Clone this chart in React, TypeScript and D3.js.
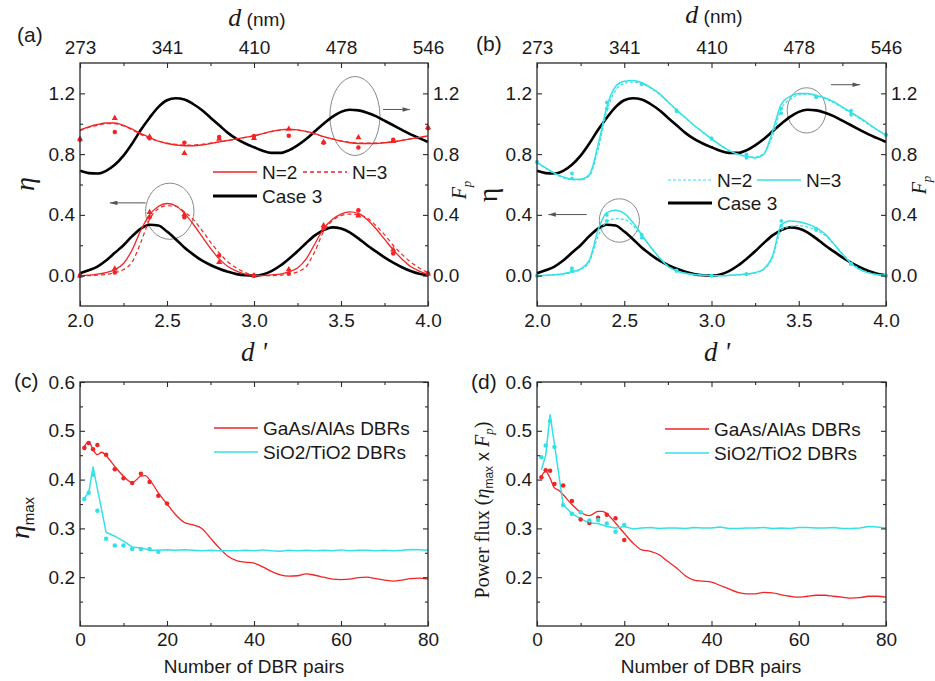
import React, { useRef, useEffect } from "react";
import * as d3 from "d3";

const SANS = "'Liberation Sans', Arial, sans-serif";
const SERIF = "'Liberation Serif', 'Times New Roman', serif";
const RED = "#f22424";
const CYAN = "#34e1e6";
const AXIS = "#2a2a2a";
const FS = 19;

// ---- panels (a) and (b): d' sweep ----
const dPrime = [2.0, 2.05, 2.1, 2.15, 2.2, 2.25, 2.3, 2.35, 2.4, 2.45, 2.5, 2.55, 2.6, 2.65, 2.7, 2.75, 2.8, 2.85, 2.9, 2.95, 3.0, 3.05, 3.1, 3.15, 3.2, 3.25, 3.3, 3.35, 3.4, 3.45, 3.5, 3.55, 3.6, 3.65, 3.7, 3.75, 3.8, 3.85, 3.9, 3.95, 4.0];
const topLabels = ["273", "341", "410", "478", "546"];

const case3Fp = [0.69, 0.675, 0.672, 0.69, 0.73, 0.79, 0.87, 0.96, 1.04, 1.11, 1.155, 1.168, 1.16, 1.13, 1.09, 1.04, 0.99, 0.94, 0.9, 0.87, 0.845, 0.822, 0.808, 0.808, 0.825, 0.858, 0.9, 0.95, 1.0, 1.045, 1.078, 1.092, 1.088, 1.073, 1.05, 1.02, 0.99, 0.96, 0.93, 0.905, 0.88];
const case3Eta = [0.015, 0.035, 0.06, 0.1, 0.15, 0.2, 0.26, 0.31, 0.335, 0.33, 0.29, 0.24, 0.185, 0.14, 0.1, 0.07, 0.045, 0.025, 0.01, 0.002, 0.0, 0.008, 0.03, 0.065, 0.11, 0.16, 0.215, 0.265, 0.3, 0.318, 0.31, 0.285, 0.245, 0.2, 0.16, 0.12, 0.085, 0.055, 0.03, 0.012, 0.003];

const aN2Fp = [0.96, 0.98, 0.995, 1.005, 1.005, 0.99, 0.965, 0.935, 0.91, 0.885, 0.87, 0.86, 0.855, 0.855, 0.86, 0.87, 0.88, 0.89, 0.9, 0.91, 0.92, 0.935, 0.95, 0.96, 0.965, 0.96, 0.95, 0.935, 0.915, 0.9, 0.885, 0.875, 0.87, 0.87, 0.87, 0.875, 0.88, 0.89, 0.9, 0.91, 0.92];
const aN3Fp = [0.955, 0.975, 0.99, 1.0, 1.0, 0.985, 0.96, 0.93, 0.905, 0.885, 0.872, 0.865, 0.86, 0.86, 0.865, 0.872, 0.88, 0.89, 0.9, 0.91, 0.922, 0.935, 0.948, 0.958, 0.962, 0.958, 0.948, 0.932, 0.915, 0.9, 0.887, 0.878, 0.873, 0.872, 0.872, 0.876, 0.882, 0.89, 0.9, 0.91, 0.92];
const aN2Eta = [0.0, 0.003, 0.01, 0.02, 0.04, 0.08, 0.17, 0.3, 0.4, 0.455, 0.475, 0.46, 0.41, 0.34, 0.26, 0.18, 0.11, 0.06, 0.03, 0.01, 0.002, 0.0, 0.005, 0.01, 0.025, 0.05, 0.11, 0.21, 0.31, 0.37, 0.405, 0.42, 0.41, 0.37, 0.31, 0.24, 0.17, 0.11, 0.06, 0.03, 0.01];
const aN3Eta = [0.0, 0.0, 0.003, 0.008, 0.02, 0.04, 0.09, 0.22, 0.37, 0.44, 0.46, 0.455, 0.42, 0.37, 0.3, 0.22, 0.15, 0.09, 0.05, 0.02, 0.005, 0.0, 0.0, 0.003, 0.01, 0.025, 0.06, 0.16, 0.29, 0.36, 0.395, 0.405, 0.4, 0.38, 0.33, 0.27, 0.2, 0.14, 0.09, 0.05, 0.02];

const bN3Fp = [0.745, 0.71, 0.675, 0.65, 0.635, 0.635, 0.665, 0.86, 1.11, 1.245, 1.28, 1.285, 1.27, 1.24, 1.2, 1.145, 1.09, 1.04, 0.99, 0.945, 0.9, 0.86, 0.825, 0.8, 0.785, 0.775, 0.8, 0.95, 1.13, 1.18, 1.2, 1.2, 1.185, 1.17, 1.145, 1.11, 1.075, 1.04, 1.0, 0.96, 0.925];
const bN2Fp = [0.745, 0.705, 0.67, 0.645, 0.63, 0.63, 0.655, 0.83, 1.08, 1.22, 1.265, 1.275, 1.265, 1.235, 1.195, 1.145, 1.09, 1.04, 0.99, 0.945, 0.9, 0.86, 0.825, 0.8, 0.785, 0.78, 0.805, 0.92, 1.1, 1.16, 1.19, 1.195, 1.185, 1.165, 1.14, 1.105, 1.07, 1.035, 0.995, 0.96, 0.925];
const bN3Eta = [0.0, 0.002, 0.006, 0.012, 0.025, 0.045, 0.1, 0.3, 0.415, 0.43, 0.41, 0.35, 0.27, 0.19, 0.12, 0.06, 0.03, 0.015, 0.007, 0.003, 0.0, 0.0, 0.002, 0.005, 0.01, 0.02, 0.045, 0.13, 0.335, 0.36, 0.355, 0.34, 0.315, 0.275, 0.21, 0.14, 0.08, 0.04, 0.018, 0.006, 0.002];
const bN2Eta = [0.0, 0.001, 0.004, 0.01, 0.02, 0.04, 0.09, 0.26, 0.355, 0.375, 0.37, 0.33, 0.26, 0.19, 0.12, 0.065, 0.033, 0.016, 0.007, 0.003, 0.0, 0.0, 0.001, 0.004, 0.008, 0.018, 0.04, 0.12, 0.3, 0.325, 0.33, 0.32, 0.3, 0.265, 0.21, 0.145, 0.085, 0.045, 0.02, 0.007, 0.002];

// simulated points
const markD = [2.0, 2.2, 2.4, 2.6, 2.8, 3.0, 3.2, 3.4, 3.6, 3.8, 4.0];
const aFpDots = [0.894, 0.945, 0.905, 0.875, 0.912, 0.92, 0.921, 0.875, 0.844, 0.894, 0.97];
const aFpTris = [0.9, 1.037, 0.915, 0.806, 0.9, 0.905, 0.965, 0.88, 0.91, 0.885, 0.975];
const aEtaDots = [0.0, 0.02, 0.385, 0.385, 0.132, 0.0, 0.013, 0.31, 0.43, 0.146, 0.015];
const aEtaTris = [0.0, 0.046, 0.417, 0.402, 0.088, 0.0, 0.04, 0.33, 0.395, 0.17, 0.01];
const bFpDots = [0.75, 0.674, 1.14, 1.26, 1.083, 0.9, 0.798, 1.1, 1.175, 1.087, 0.93];
const bFpDots2 = [0.745, 0.64, 1.1, 1.265, 1.09, 0.905, 0.776, 1.07, 1.18, 1.06, 0.925];
const bEtaDots = [0.0, 0.05, 0.4, 0.27, 0.03, 0.0, 0.01, 0.36, 0.31, 0.08, 0.0];
const bEtaDots2 = [0.0, 0.035, 0.36, 0.25, 0.035, 0.0, 0.01, 0.33, 0.3, 0.075, 0.0];

// circles + arrows, in data units
const ellipsesA = [
  { d: 3.58, v: 1.051, rd: 0.144, rv: 0.26 },
  { d: 2.516, v: 0.424, rd: 0.139, rv: 0.185 },
];
const arrowsA = [
  { d0: 3.742, d1: 3.897, v: 1.094 },
  { d0: 2.377, d1: 2.172, v: 0.479 },
];
const ellipsesB = [
  { d: 3.545, v: 1.088, rd: 0.111, rv: 0.149 },
  { d: 2.472, v: 0.363, rd: 0.115, rv: 0.143 },
];
const arrowsB = [
  { d0: 3.685, d1: 3.851, v: 1.257 },
  { d0: 2.285, d1: 2.065, v: 0.402 },
];

// ---- panels (c) and (d): number of DBR pairs ----
const pairs = [1, 2, 3, 4, 5, 6, 8, 10, 12, 14, 15, 16, 18, 20, 22, 24, 26, 28, 30, 32, 34, 36, 38, 40, 42, 44, 46, 48, 50, 52, 54, 56, 58, 60, 62, 64, 66, 68, 70, 72, 74, 76, 78, 80];
const gaasEta = [0.468, 0.478, 0.461, 0.451, 0.456, 0.449, 0.427, 0.407, 0.394, 0.407, 0.408, 0.4, 0.373, 0.35, 0.328, 0.312, 0.307, 0.3, 0.28, 0.26, 0.243, 0.234, 0.231, 0.229, 0.221, 0.212, 0.205, 0.202, 0.203, 0.207, 0.204, 0.2, 0.196, 0.195, 0.196, 0.199, 0.2, 0.197, 0.194, 0.192, 0.194, 0.197, 0.198, 0.196];
const sioEta = [0.362, 0.373, 0.426, 0.381, 0.337, 0.292, 0.284, 0.274, 0.262, 0.26, 0.258, 0.255, 0.255, 0.256, 0.255, 0.256, 0.255, 0.254, 0.255, 0.254, 0.254, 0.254, 0.255, 0.254, 0.256, 0.254, 0.253, 0.255, 0.254, 0.255, 0.254, 0.255, 0.254, 0.256, 0.254, 0.255, 0.255, 0.254, 0.255, 0.254, 0.255, 0.257, 0.256, 0.255];
const gaasFlux = [0.407, 0.417, 0.403, 0.383, 0.378, 0.369, 0.349, 0.333, 0.326, 0.335, 0.335, 0.33, 0.311, 0.29, 0.27, 0.256, 0.253, 0.246, 0.232, 0.219, 0.203, 0.194, 0.192, 0.19, 0.183, 0.176, 0.169, 0.166, 0.166, 0.169, 0.168, 0.164, 0.161, 0.159, 0.161, 0.163, 0.163, 0.161, 0.159, 0.157, 0.158, 0.161, 0.161, 0.159];
const sioFlux = [0.42, 0.45, 0.533, 0.472, 0.41, 0.349, 0.33, 0.32, 0.311, 0.31, 0.307, 0.304, 0.301, 0.304, 0.299, 0.301, 0.302, 0.3, 0.301, 0.301, 0.3, 0.302, 0.301, 0.301, 0.303, 0.3, 0.3, 0.301, 0.301, 0.302, 0.3, 0.301, 0.3, 0.302, 0.302, 0.301, 0.301, 0.302, 0.3, 0.3, 0.301, 0.304, 0.303, 0.301];

const dotPairs = [1, 2, 3, 4, 6, 8, 10, 12, 14, 16, 18, 20];
const gaasEtaDots = [0.465, 0.475, 0.462, 0.471, 0.451, 0.421, 0.403, 0.393, 0.412, 0.395, 0.367, 0.351];
const sioEtaDots = [0.36, 0.373, 0.41, 0.336, 0.279, 0.265, 0.265, 0.258, 0.258, 0.258, 0.252];
const gaasFluxDots = [0.405, 0.419, 0.418, 0.391, 0.388, 0.356, 0.318, 0.311, 0.322, 0.328, 0.321, 0.276];
const sioFluxDots = [0.446, 0.47, 0.52, 0.467, 0.348, 0.33, 0.333, 0.316, 0.317, 0.31, 0.293, 0.307];

const fmt1 = d3.format(".1f");

function drawAxes(g, x, y, opt) {
  const [xl, xr] = x.range();
  const [yb, yt] = y.range();
  const none = () => "";
  const style = (sel) => {
    sel.select(".domain").remove();
    sel.attr("font-family", SANS).attr("font-size", FS).attr("color", AXIS);
    sel.selectAll("line").attr("stroke-width", 1.1);
    sel.selectAll("text").attr("fill", "#1a1a1a");
  };
  const add = (axis, tr) => g.append("g").attr("transform", tr).call(axis).call(style);

  add(d3.axisBottom(x).tickValues(opt.xMajor).tickSize(-5).tickPadding(opt.padBottom).tickFormat(opt.xFormat), `translate(0,${yb})`);
  add(d3.axisBottom(x).tickValues(opt.xMinor).tickSize(-3).tickFormat(none), `translate(0,${yb})`);
  add(d3.axisTop(x).tickValues(opt.xMajor).tickSize(-5).tickPadding(9).tickFormat(opt.topFormat || none), `translate(0,${yt})`);
  add(d3.axisTop(x).tickValues(opt.xMinor).tickSize(-3).tickFormat(none), `translate(0,${yt})`);
  add(d3.axisLeft(y).tickValues(opt.yMajor).tickSize(-5).tickPadding(5).tickFormat(fmt1), `translate(${xl},0)`);
  add(d3.axisLeft(y).tickValues(opt.yMinor).tickSize(-3).tickFormat(none), `translate(${xl},0)`);
  add(d3.axisRight(y).tickValues(opt.yMajor).tickSize(-5).tickPadding(5).tickFormat(opt.rightLabels ? fmt1 : none), `translate(${xr},0)`);
  add(d3.axisRight(y).tickValues(opt.yMinor).tickSize(-3).tickFormat(none), `translate(${xr},0)`);

  g.append("rect")
    .attr("x", xl)
    .attr("y", yt)
    .attr("width", xr - xl)
    .attr("height", yb - yt)
    .attr("fill", "none")
    .attr("stroke", AXIS)
    .attr("stroke-width", 1.3);
}

function curve(g, xs, ys, x, y, color, width, dash, shape) {
  const line = d3
    .line()
    .x((d) => x(d[0]))
    .y((d) => y(d[1]))
    .curve(shape || d3.curveMonotoneX);
  g.append("path")
    .datum(xs.map((v, i) => [v, ys[i]]))
    .attr("fill", "none")
    .attr("stroke", color)
    .attr("stroke-width", width)
    .attr("stroke-dasharray", dash || null)
    .attr("stroke-linejoin", "round")
    .attr("d", line);
}

function dots(g, xs, ys, x, y, color, kind, size) {
  const sym = d3.symbol().type(kind === "tri" ? d3.symbolTriangle : d3.symbolCircle).size(size);
  g.selectAll(null)
    .data(ys.map((v, i) => [xs[i], v]))
    .join("path")
    .attr("transform", (d) => `translate(${x(d[0])},${y(d[1])})`)
    .attr("d", sym)
    .attr("fill", color);
}

function notes(g, x, y, ellipses, arrows) {
  ellipses.forEach((e) => {
    g.append("ellipse")
      .attr("cx", x(e.d))
      .attr("cy", y(e.v))
      .attr("rx", x(e.d + e.rd) - x(e.d))
      .attr("ry", y(e.v) - y(e.v + e.rv))
      .attr("fill", "none")
      .attr("stroke", "#8a8a8a")
      .attr("stroke-width", 1);
  });
  arrows.forEach((a) => {
    g.append("line")
      .attr("x1", x(a.d0))
      .attr("x2", x(a.d1))
      .attr("y1", y(a.v))
      .attr("y2", y(a.v))
      .attr("stroke", "#555")
      .attr("stroke-width", 1)
      .attr("marker-end", "url(#arrowHead)");
  });
}

function legendRow(g, x0, y0, color, width, dash, label) {
  g.append("line")
    .attr("x1", x0)
    .attr("x2", x0 + 44)
    .attr("y1", y0)
    .attr("y2", y0)
    .attr("stroke", color)
    .attr("stroke-width", width)
    .attr("stroke-dasharray", dash || null);
  g.append("text")
    .attr("x", x0 + 49)
    .attr("y", y0 + 7)
    .attr("font-family", SANS)
    .attr("font-size", FS)
    .attr("fill", "#1a1a1a")
    .text(label);
}

function plainText(g, x, y, size, family, label, opts = {}) {
  return g
    .append("text")
    .attr("x", x)
    .attr("y", y)
    .attr("font-size", size)
    .attr("font-family", family)
    .attr("font-style", opts.italic ? "italic" : null)
    .attr("text-anchor", opts.anchor || "start")
    .attr("fill", "#1a1a1a")
    .text(label);
}

function dTitle(g, cx, y) {
  const t = g.append("text").attr("x", cx).attr("y", y).attr("text-anchor", "middle").attr("fill", "#1a1a1a");
  t.append("tspan").attr("font-family", SERIF).attr("font-style", "italic").attr("font-size", 26).text("d");
  t.append("tspan").attr("font-family", SANS).attr("font-size", FS).text(" (nm)");
}

function fpLabel(g, x, y) {
  const t = g
    .append("text")
    .attr("transform", `translate(${x},${y}) rotate(-90)`)
    .attr("text-anchor", "middle")
    .attr("fill", "#1a1a1a")
    .attr("font-family", SERIF)
    .attr("font-style", "italic");
  t.append("tspan").attr("font-size", 20).text("F");
  t.append("tspan").attr("font-size", 13).attr("dy", 5).text("p");
}

const Chart = () => {
  const ref = useRef(null);

  useEffect(() => {
    const svg = d3.select(ref.current);
    svg.selectAll("*").remove();

    svg
      .append("defs")
      .append("marker")
      .attr("id", "arrowHead")
      .attr("viewBox", "0 0 10 6")
      .attr("refX", 10)
      .attr("refY", 3)
      .attr("markerWidth", 8)
      .attr("markerHeight", 4.5)
      .attr("orient", "auto")
      .append("path")
      .attr("d", "M0,0L10,3L0,6Z")
      .attr("fill", "#555");

    const g = svg.append("g");

    // scales
    const xA = d3.scaleLinear().domain([2, 4]).range([80, 428]);
    const xB = d3.scaleLinear().domain([2, 4]).range([537, 886]);
    const yTop = d3.scaleLinear().domain([-0.2, 1.4]).range([306, 63]);
    const xC = d3.scaleLinear().domain([0, 80]).range([80, 428]);
    const xD = d3.scaleLinear().domain([0, 80]).range([537, 886]);
    const yBot = d3.scaleLinear().domain([0.1, 0.6]).range([626, 382]);

    const topOpt = {
      xMajor: [2, 2.5, 3, 3.5, 4],
      xMinor: [2.25, 2.75, 3.25, 3.75],
      yMajor: [0, 0.4, 0.8, 1.2],
      yMinor: [0.2, 0.6, 1.0],
      xFormat: fmt1,
      topFormat: (d, i) => topLabels[i],
      padBottom: 8,
      rightLabels: true,
    };
    const botOpt = {
      xMajor: [0, 20, 40, 60, 80],
      xMinor: [10, 30, 50, 70],
      yMajor: [0.2, 0.3, 0.4, 0.5, 0.6],
      yMinor: [0.15, 0.25, 0.35, 0.45, 0.55],
      xFormat: d3.format("d"),
      padBottom: 7,
      rightLabels: false,
    };

    // ---- (a)
    notes(g, xA, yTop, ellipsesA, arrowsA);
    curve(g, dPrime, case3Fp, xA, yTop, "#000", 2.6);
    curve(g, dPrime, case3Eta, xA, yTop, "#000", 2.6);
    curve(g, dPrime, aN3Fp, xA, yTop, RED, 1.2, "4 3");
    curve(g, dPrime, aN2Fp, xA, yTop, RED, 1.3);
    curve(g, dPrime, aN3Eta, xA, yTop, RED, 1.2, "4 3");
    curve(g, dPrime, aN2Eta, xA, yTop, RED, 1.3);
    dots(g, markD, aFpDots, xA, yTop, RED, "dot", 16);
    dots(g, markD, aFpTris, xA, yTop, RED, "tri", 16);
    dots(g, markD, aEtaDots, xA, yTop, RED, "dot", 16);
    dots(g, markD, aEtaTris, xA, yTop, RED, "tri", 16);
    drawAxes(g, xA, yTop, topOpt);
    legendRow(g, 213, 172, RED, 1.3, null, "N=2");
    legendRow(g, 303, 172, RED, 1.3, "4 3", "N=3");
    legendRow(g, 213, 196, "#000", 3, null, "Case 3");

    // ---- (b)
    notes(g, xB, yTop, ellipsesB, arrowsB);
    curve(g, dPrime, case3Fp, xB, yTop, "#000", 2.6);
    curve(g, dPrime, case3Eta, xB, yTop, "#000", 2.6);
    curve(g, dPrime, bN2Fp, xB, yTop, CYAN, 1.2, "3 2");
    curve(g, dPrime, bN3Fp, xB, yTop, CYAN, 1.5);
    curve(g, dPrime, bN2Eta, xB, yTop, CYAN, 1.2, "3 2");
    curve(g, dPrime, bN3Eta, xB, yTop, CYAN, 1.5);
    dots(g, markD, bFpDots, xB, yTop, CYAN, "dot", 11);
    dots(g, markD, bFpDots2, xB, yTop, CYAN, "dot", 11);
    dots(g, markD, bEtaDots, xB, yTop, CYAN, "dot", 11);
    dots(g, markD, bEtaDots2, xB, yTop, CYAN, "dot", 11);
    drawAxes(g, xB, yTop, topOpt);
    legendRow(g, 668, 180, CYAN, 1.2, "3 2", "N=2");
    legendRow(g, 757, 180, CYAN, 1.5, null, "N=3");
    legendRow(g, 668, 203, "#000", 3, null, "Case 3");

    // ---- (c)
    curve(g, pairs, gaasEta, xC, yBot, RED, 1.3);
    curve(g, pairs, sioEta, xC, yBot, CYAN, 1.5, null, d3.curveLinear);
    dots(g, dotPairs, gaasEtaDots, xC, yBot, RED, "dot", 16);
    dots(g, dotPairs, sioEtaDots, xC, yBot, CYAN, "dot", 16);
    drawAxes(g, xC, yBot, botOpt);
    legendRow(g, 214, 428, RED, 1.3, null, "GaAs/AlAs DBRs");
    legendRow(g, 214, 452, CYAN, 1.5, null, "SiO2/TiO2 DBRs");

    // ---- (d)
    curve(g, pairs, gaasFlux, xD, yBot, RED, 1.3);
    curve(g, pairs, sioFlux, xD, yBot, CYAN, 1.5, null, d3.curveLinear);
    dots(g, dotPairs, gaasFluxDots, xD, yBot, RED, "dot", 16);
    dots(g, dotPairs, sioFluxDots, xD, yBot, CYAN, "dot", 16);
    drawAxes(g, xD, yBot, botOpt);
    legendRow(g, 665, 429, RED, 1.3, null, "GaAs/AlAs DBRs");
    legendRow(g, 665, 453, CYAN, 1.5, null, "SiO2/TiO2 DBRs");

    // ---- titles and panel letters
    plainText(g, 17, 42, 21, SANS, "(a)");
    plainText(g, 476, 51, 21, SANS, "(b)");
    plainText(g, 14, 388, 21, SANS, "(c)");
    plainText(g, 471, 389, 21, SANS, "(d)");

    dTitle(g, 257, 26);
    dTitle(g, 714, 23);
    plainText(g, 254, 361, 27, SERIF, "d '", { italic: true, anchor: "middle" });
    plainText(g, 717, 361, 27, SERIF, "d '", { italic: true, anchor: "middle" });
    plainText(g, 254, 673, FS, SANS, "Number of DBR pairs", { anchor: "middle" });
    plainText(g, 711, 673, FS, SANS, "Number of DBR pairs", { anchor: "middle" });

    // y titles, (a)/(b)
    g.append("text")
      .attr("transform", "translate(34,184) rotate(-90)")
      .attr("text-anchor", "middle")
      .attr("font-family", SERIF)
      .attr("font-style", "italic")
      .attr("font-size", 28)
      .attr("fill", "#1a1a1a")
      .text("η");
    fpLabel(g, 466, 190);
    g.append("text")
      .attr("transform", "translate(497,195) rotate(-90)")
      .attr("text-anchor", "middle")
      .attr("font-family", SERIF)
      .attr("font-size", 28)
      .attr("fill", "#1a1a1a")
      .text("η");
    fpLabel(g, 926, 185);

    // (c) eta_max
    const em = g
      .append("text")
      .attr("transform", "translate(29,518) rotate(-90)")
      .attr("text-anchor", "middle")
      .attr("fill", "#1a1a1a");
    em.append("tspan").attr("font-family", SERIF).attr("font-style", "italic").attr("font-size", 28).text("η");
    em.append("tspan").attr("font-family", SANS).attr("font-size", 15).attr("dy", 5).text("max");

    // (d) power flux
    const pf = g
      .append("text")
      .attr("transform", "translate(489,510) rotate(-90)")
      .attr("text-anchor", "middle")
      .attr("fill", "#1a1a1a")
      .attr("font-family", SERIF)
      .attr("font-size", 20);
    pf.append("tspan").text("Power flux (");
    pf.append("tspan").attr("font-style", "italic").text("η");
    pf.append("tspan").attr("font-family", SANS).attr("font-size", 12).attr("dy", 4).text("max");
    pf.append("tspan").attr("font-family", SANS).attr("font-size", 18).attr("dy", -4).text(" x ");
    pf.append("tspan").attr("font-style", "italic").text("F");
    pf.append("tspan").attr("font-style", "italic").attr("font-size", 13).attr("dy", 4).text("p");
    pf.append("tspan").attr("dy", -4).text(")");
  }, []);

  return (
    <svg
      ref={ref}
      width={935}
      height={681}
      style={{ position: "absolute", left: 0, top: 0, background: "#fff" }}
    ></svg>
  );
};

export default function App() {
  return <Chart />;
}
